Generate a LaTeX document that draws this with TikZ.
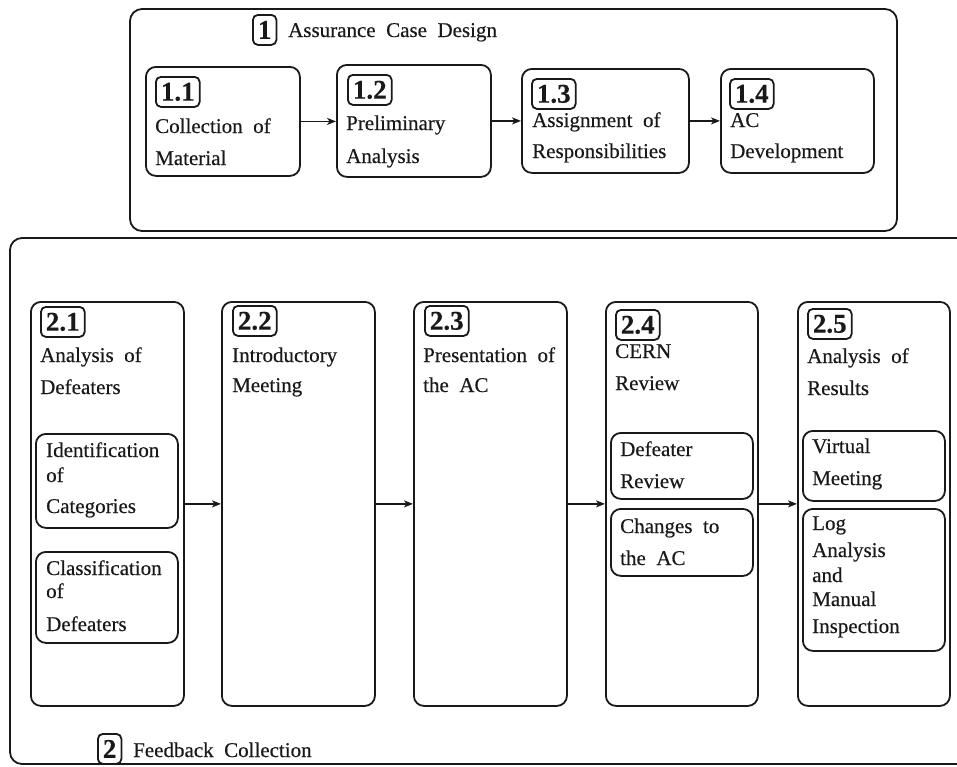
\documentclass[tikz,border=0pt]{standalone}
\usepackage{fontspec}
\setmainfont{Liberation Serif}[FakeBold=0.4]
\usetikzlibrary{arrows.meta}
\definecolor{ink}{RGB}{25,25,25}
\newcommand\mytxtfont{\fontsize{21}{25}\selectfont\spaceskip 10.5pt\relax}
\tikzset{
  box/.style={draw=ink, line width=1.8pt, rounded corners=10pt, inner sep=0pt, anchor=north west},
  badge/.style={draw=ink, line width=1.8pt, rounded corners=5pt, inner xsep=5pt, inner ysep=0pt,
    minimum height=30pt, anchor=north west, text=ink, font=\fontsize{27}{30}\selectfont\bfseries},
  txt/.style={anchor=base west, inner sep=0pt, text=ink, font=\mytxtfont},
  arr/.style={draw=ink, line width=1.3pt, -{Stealth[length=9pt,width=7pt,inset=2.5pt]}},
}
\begin{document}
\begin{tikzpicture}[x=1pt,y=-1pt]
\useasboundingbox (0,0) rectangle (957,766);
\clip (0,0) rectangle (957,766);
% outer containers
\draw[draw=ink, line width=1.8pt, rounded corners=12pt] (130,9) rectangle (897,231);
\draw[draw=ink, line width=1.8pt, rounded corners=12pt] (10,238) rectangle (990,764);
% title 1
\node[badge] (g1) at (252,14) {1};
\node[txt] (t1) at (288,37) {Assurance Case Design};
% row 1 boxes
\node[box, minimum width=154pt, minimum height=109pt] (b11) at (145,66) {};
\node[box, minimum width=154pt, minimum height=112pt] (b12) at (336,64) {};
\node[box, minimum width=167pt, minimum height=104pt] (b13) at (521,68) {};
\node[box, minimum width=153pt, minimum height=104pt] (b14) at (720,68) {};
\node[badge] (g11) at (155,76) {1.1};
\node[badge] (g12) at (347,74) {1.2};
\node[badge] (g13) at (531,78) {1.3};
\node[badge] (g14) at (729,78) {1.4};
\node[txt] (t11a) at (155,133) {Collection of};
\node[txt] (t11b) at (155,165) {Material};
\node[txt] (t12a) at (346,130) {Preliminary};
\node[txt] (t12b) at (346,163) {Analysis};
\node[txt] (t13a) at (532,127) {Assignment of};
\node[txt] (t13b) at (532,158) {Responsibilities};
\node[txt] (t14a) at (730,127) {AC};
\node[txt] (t14b) at (730,158) {Development};
\draw[arr] (b11.east) -- (b11.east -| b12.west);
\draw[arr] (b12.east) -- (b12.east -| b13.west);
\draw[arr] (b13.east) -- (b13.east -| b14.west);
% row 2 boxes
\node[box, minimum width=153pt, minimum height=404pt] (b21) at (30,301) {};
\node[box, minimum width=153pt, minimum height=404pt] (b22) at (221,301) {};
\node[box, minimum width=153pt, minimum height=404pt] (b23) at (413,301) {};
\node[box, minimum width=152pt, minimum height=404pt] (b24) at (605,301) {};
\node[box, minimum width=152pt, minimum height=404pt] (b25) at (797,301) {};
\node[badge] (g21) at (40,306) {2.1};
\node[badge] (g22) at (232,305) {2.2};
\node[badge] (g23) at (424,305) {2.3};
\node[badge] (g24) at (615,309) {2.4};
\node[badge] (g25) at (807,308) {2.5};
\node[txt] (t21a) at (40,362) {Analysis of};
\node[txt] (t21b) at (40,394) {Defeaters};
\node[txt] (t22a) at (232,362) {Introductory};
\node[txt] (t22b) at (232,392) {Meeting};
\node[txt] (t23a) at (423,362) {Presentation of};
\node[txt] (t23b) at (423,392) {the AC};
\node[txt] (t24a) at (615,358) {CERN};
\node[txt] (t24b) at (615,390) {Review};
\node[txt] (t25a) at (807,363) {Analysis of};
\node[txt] (t25b) at (807,395) {Results};
% inner boxes
\node[box, minimum width=142pt, minimum height=94pt] (i211) at (35,433) {};
\node[box, minimum width=142pt, minimum height=91pt] (i212) at (35,551) {};
\node[box, minimum width=142pt, minimum height=66pt] (i241) at (610,432) {};
\node[box, minimum width=142pt, minimum height=67pt] (i242) at (610,508) {};
\node[box, minimum width=142pt, minimum height=70pt] (i251) at (802,430) {};
\node[box, minimum width=142pt, minimum height=142pt] (i252) at (802,508) {};
\node[txt] (s211a) at (46,457) {Identification};
\node[txt] (s211b) at (46,482) {of};
\node[txt] (s211c) at (46,513) {Categories};
\node[txt] (s212a) at (46,575) {Classification};
\node[txt] (s212b) at (46,598) {of};
\node[txt] (s212c) at (46,631) {Defeaters};
\node[txt] (s241a) at (620,456) {Defeater};
\node[txt] (s241b) at (620,488) {Review};
\node[txt] (s242a) at (620,533) {Changes to};
\node[txt] (s242b) at (620,565) {the AC};
\node[txt] (s251a) at (812,453) {Virtual};
\node[txt] (s251b) at (812,485) {Meeting};
\node[txt] (s252a) at (812,530) {Log};
\node[txt] (s252b) at (812,557) {Analysis};
\node[txt] (s252c) at (812,582) {and};
\node[txt] (s252d) at (812,606) {Manual};
\node[txt] (s252e) at (812,633) {Inspection};
\draw[arr] (b21.east) -- (b22.west);
\draw[arr] (b22.east) -- (b23.west);
\draw[arr] (b23.east) -- (b24.west);
\draw[arr] (b24.east) -- (b25.west);
% title 2
\node[badge] (g2) at (97,733) {2};
\node[txt] (t2) at (133,757) {Feedback Collection};
\end{tikzpicture}
\end{document}
